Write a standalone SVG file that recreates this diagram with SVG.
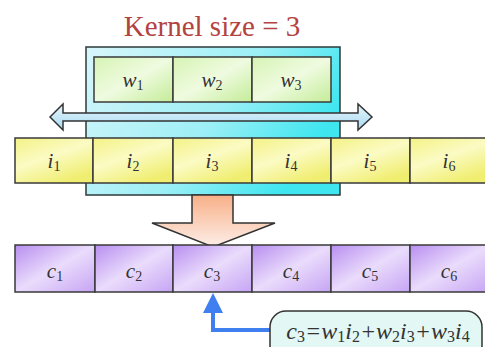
<svg xmlns="http://www.w3.org/2000/svg" width="485" height="347" viewBox="0 0 485 347">
<defs>
<linearGradient id="gCyan" x1="0" y1="0" x2="1" y2="0.4">
<stop offset="0" stop-color="#d8f6fa"/><stop offset="0.6" stop-color="#9ceff6"/><stop offset="1" stop-color="#3fe6f0"/>
</linearGradient>
<linearGradient id="gGreen" x1="0" y1="0" x2="1" y2="1">
<stop offset="0" stop-color="#d6f4b4"/><stop offset="0.5" stop-color="#effbe0"/><stop offset="1" stop-color="#c4ec98"/>
</linearGradient>
<linearGradient id="gYellow" x1="0" y1="0" x2="0.6" y2="1">
<stop offset="0" stop-color="#f4f286"/><stop offset="0.5" stop-color="#fbfbc4"/><stop offset="1" stop-color="#f0ee70"/>
</linearGradient>
<linearGradient id="gPurple" x1="0" y1="0" x2="1" y2="1">
<stop offset="0" stop-color="#b88ef0"/><stop offset="0.5" stop-color="#eadcfc"/><stop offset="1" stop-color="#c6a4f4"/>
</linearGradient>
<linearGradient id="gOrange" x1="0" y1="0" x2="0" y2="1">
<stop offset="0" stop-color="#f8b088"/><stop offset="1" stop-color="#fdeee8"/>
</linearGradient>
<linearGradient id="gArrow" x1="0" y1="0" x2="0" y2="1">
<stop offset="0" stop-color="#e6f6fc"/><stop offset="1" stop-color="#a8daf2"/>
</linearGradient>
<style>
.cell{stroke:#3a3a3a;stroke-width:1.5}
.lab{font-family:"Liberation Serif",serif;font-style:italic;font-size:21px;fill:#333;text-anchor:middle}
.sub{font-size:14px;font-style:normal}
.fx{font-family:"Liberation Serif",serif;font-style:italic;font-size:24px;fill:#333;text-anchor:middle}
.fsub{font-size:16px;font-style:normal}
.title{font-family:"Liberation Serif",serif;font-size:29px;fill:#b3433f;text-anchor:middle}
</style>
</defs>
<rect width="485" height="347" fill="#ffffff"/>
<text class="title" x="212" y="36">Kernel size = 3</text>
<g id="kernel-window">
<rect x="86" y="47" width="254" height="148" fill="url(#gCyan)" stroke="#2e3a3a" stroke-width="1.5"/>
</g>
<g id="weights">
<rect class="cell" x="94" y="57" width="79" height="45" fill="url(#gGreen)"/>
<rect class="cell" x="173" y="57" width="79" height="45" fill="url(#gGreen)"/>
<rect class="cell" x="252" y="57" width="79" height="45" fill="url(#gGreen)"/>
<text class="lab" x="133" y="87">w<tspan class="sub" dy="3">1</tspan></text>
<text class="lab" x="212" y="87">w<tspan class="sub" dy="3">2</tspan></text>
<text class="lab" x="291" y="87">w<tspan class="sub" dy="3">3</tspan></text>
</g>
<g id="slide-arrow">
<path d="M50,117 L63,104 L63,113 L358,113 L358,104 L372,117 L358,130 L358,121 L63,121 L63,130 Z" fill="url(#gArrow)" stroke="#333" stroke-width="1.5" stroke-linejoin="miter"/>
</g>
<g id="inputs">
<rect class="cell" x="15" y="138" width="78" height="45" fill="url(#gYellow)"/>
<rect class="cell" x="93" y="138" width="80" height="45" fill="url(#gYellow)"/>
<rect class="cell" x="173" y="138" width="79" height="45" fill="url(#gYellow)"/>
<rect class="cell" x="252" y="138" width="79" height="45" fill="url(#gYellow)"/>
<rect class="cell" x="331" y="138" width="79" height="45" fill="url(#gYellow)"/>
<rect class="cell" x="410" y="138" width="79" height="45" fill="url(#gYellow)"/>
<text class="lab" x="54" y="168">i<tspan class="sub" dy="3">1</tspan></text>
<text class="lab" x="133" y="168">i<tspan class="sub" dy="3">2</tspan></text>
<text class="lab" x="212" y="168">i<tspan class="sub" dy="3">3</tspan></text>
<text class="lab" x="291" y="168">i<tspan class="sub" dy="3">4</tspan></text>
<text class="lab" x="370" y="168">i<tspan class="sub" dy="3">5</tspan></text>
<text class="lab" x="449" y="168">i<tspan class="sub" dy="3">6</tspan></text>
</g>
<g id="down-arrow">
<path d="M192,195 L233,195 L233,223 L275,223 L213,247 L152,223 L192,223 Z" fill="url(#gOrange)" stroke="#333" stroke-width="1.5"/>
</g>
<g id="outputs">
<rect class="cell" x="15" y="245" width="80" height="47" fill="url(#gPurple)"/>
<rect class="cell" x="95" y="245" width="78" height="47" fill="url(#gPurple)"/>
<rect class="cell" x="173" y="245" width="79" height="47" fill="url(#gPurple)"/>
<rect class="cell" x="252" y="245" width="79" height="47" fill="url(#gPurple)"/>
<rect class="cell" x="331" y="245" width="79" height="47" fill="url(#gPurple)"/>
<rect class="cell" x="410" y="245" width="79" height="47" fill="url(#gPurple)"/>
<text class="lab" x="55" y="278">c<tspan class="sub" dy="3">1</tspan></text>
<text class="lab" x="134" y="278">c<tspan class="sub" dy="3">2</tspan></text>
<text class="lab" x="212" y="278">c<tspan class="sub" dy="3">3</tspan></text>
<text class="lab" x="291" y="278">c<tspan class="sub" dy="3">4</tspan></text>
<text class="lab" x="370" y="278">c<tspan class="sub" dy="3">5</tspan></text>
<text class="lab" x="449" y="278">c<tspan class="sub" dy="3">6</tspan></text>
</g>
<g id="connectors">
<path d="M271,330 L213,330 L213,310" fill="none" stroke="#3f7ff0" stroke-width="4"/>
<path d="M213,293 L223,313 L203,313 Z" fill="#3f7ff0"/>
</g>
<g id="formula">
<rect x="270" y="311" width="212" height="50" rx="16" fill="#e3f8f4" stroke="#333" stroke-width="1.5"/>
<text class="fx" x="378" y="339">c<tspan class="fsub" dy="3">3</tspan><tspan dy="-3">=w</tspan><tspan class="fsub" dy="3">1</tspan><tspan dy="-3">i</tspan><tspan class="fsub" dy="3">2</tspan><tspan dy="-3">+w</tspan><tspan class="fsub" dy="3">2</tspan><tspan dy="-3">i</tspan><tspan class="fsub" dy="3">3</tspan><tspan dy="-3">+w</tspan><tspan class="fsub" dy="3">3</tspan><tspan dy="-3">i</tspan><tspan class="fsub" dy="3">4</tspan></text>
</g>
</svg>
